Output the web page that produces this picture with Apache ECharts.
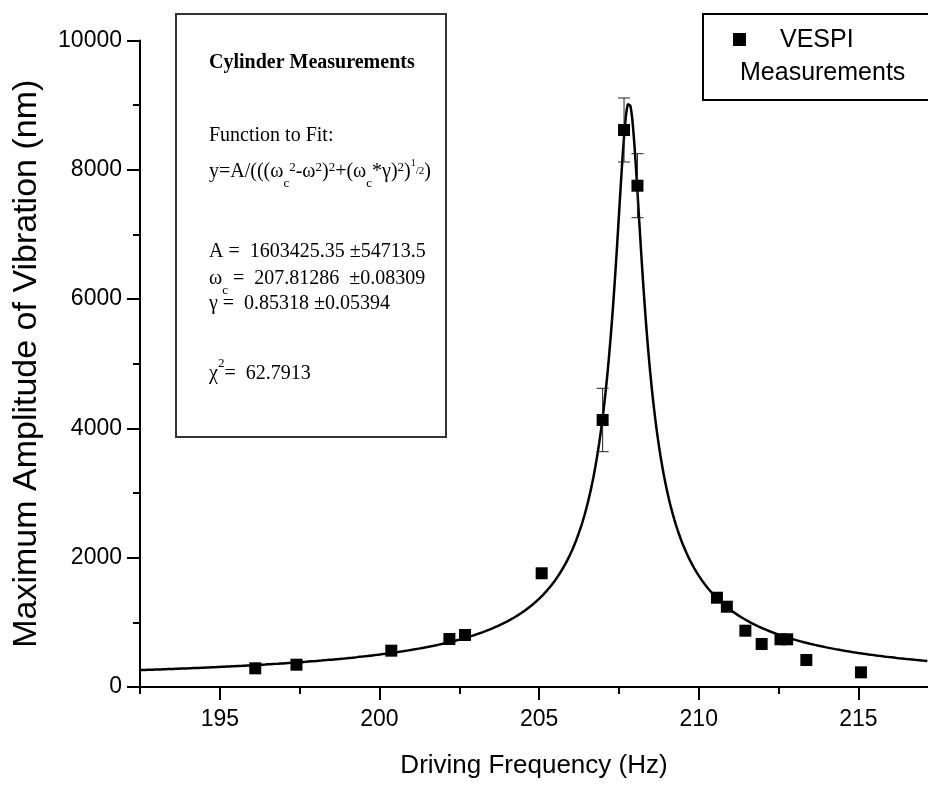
<!DOCTYPE html>
<html>
<head>
<meta charset="utf-8">
<script src="https://cdn.jsdelivr.net/npm/echarts@6/dist/echarts.min.js"></script>
<style>
  html, body { margin: 0; padding: 0; background: #fff; }
  #chart { width: 928px; height: 788px; }
</style>
</head>
<body>
<div id="chart"></div>
<script>
// Measured resonance data: driving frequency (Hz) and peak amplitude (nm)
const freq = [196.11, 197.40, 200.37, 202.19, 202.68, 205.08, 206.99, 207.66, 208.08,
              210.57, 210.88, 211.46, 211.97, 212.56, 212.77, 213.37, 215.08];
const amplitude = [289, 345, 562, 742, 804, 1759, 4130, 8616, 7754,
                   1381, 1242, 871, 665, 738, 738, 418, 227];

// Points carrying visible error bars (index into the arrays above) and their half-widths
const errIndex = [6, 7, 8];
const errSize = [490, 495, 495];

// Axis ranges and tick positions
const xMin = 192.5, xMax = 217.18;
const xMajorTicks = [195, 200, 205, 210, 215];
const xMinorTicks = [192.5, 197.5, 202.5, 207.5, 212.5];
const yMin = 0, yMax = 10000, yStep = 2000;

// Fitted resonance parameters (as printed in the annotation box)
const fitA = 1603425.35;
const fitOmegaC = 207.81286;
const fitGamma = 0.85318;

// Annotation strings
const boxTitle = 'Cylinder Measurements';
const fitLabel = 'Function to Fit:';
const paramA = 'A =  1603425.35 \u00b154713.5';
const paramWc = ' =  207.81286  \u00b10.08309';
const paramGamma = '\u03b3 =  0.85318 \u00b10.05394';
const chiValue = '=  62.7913';
const legendName1 = 'VESPI';
const legendName2 = 'Measurements';

// Fit curve y = A / sqrt((wc^2 - w^2)^2 + (wc*gamma)^2)
function fitAmplitude(w) {
  const d = fitOmegaC * fitOmegaC - w * w;
  const g = fitOmegaC * fitGamma;
  return fitA / Math.sqrt(d * d + g * g);
}
const fitCurve = [];
for (let w = xMin; w <= xMax + 1e-9; w += 0.02) fitCurve.push([w, fitAmplitude(w)]);

const scatterData = freq.map((f, i) => [f, amplitude[i]]);
const errData = errIndex.map((k, j) => [freq[k], amplitude[k], errSize[j]]);

// --- text helpers for the annotation box (sub/superscripts) ---
const measureCtx = document.createElement('canvas').getContext('2d');
const SERIF = '"Liberation Serif", "Times New Roman", serif';
const SANS = '"Liberation Sans", Arial, sans-serif';
const segStyle = {
  n:    { size: 20, dy: 0 },
  sub:  { size: 13, dy: 10 },
  sup:  { size: 13, dy: -6 },
  supH: { size: 13, dy: -12 },
  half1:{ size: 10, dy: -11 },
  half2:{ size: 11, dy: -3 }
};
function textLine(x, baseline, segs, weight) {
  const out = [];
  let cx = x;
  segs.forEach(([t, kind]) => {
    const st = segStyle[kind];
    const fw = weight || 'normal';
    measureCtx.font = fw + ' ' + st.size + 'px ' + SERIF;
    const w = measureCtx.measureText(t).width;
    out.push({
      type: 'text', x: cx, y: baseline + st.dy - st.size * 0.32, z: 20,
      style: { text: t, fill: '#000', font: fw + ' ' + st.size + 'px ' + SERIF,
               align: 'left', verticalAlign: 'middle' }
    });
    cx += w;
  });
  return out;
}

const boxLeft = 209;
const boxGraphics = [
  { type: 'rect', z: 10, shape: { x: 176, y: 14, width: 270, height: 423 },
    style: { fill: '#fff', stroke: '#333', lineWidth: 2 } },
  ...textLine(boxLeft, 69, [[boxTitle, 'n']], 'bold'),
  ...textLine(boxLeft, 142, [[fitLabel, 'n']]),
  ...textLine(boxLeft, 178, [
    ['y=A/(((\u03c9', 'n'], ['c', 'sub'], ['2', 'sup'], ['-\u03c9', 'n'], ['2', 'sup'],
    [')', 'n'], ['2', 'sup'], ['+(\u03c9', 'n'], ['c', 'sub'], ['*\u03b3)', 'n'], ['2', 'sup'],
    [')', 'n'], ['1', 'half1'], ['/', 'half2'], ['2', 'half2'], [')', 'n']
  ]),
  ...textLine(boxLeft, 258, [[paramA, 'n']]),
  ...textLine(boxLeft, 285, [['\u03c9', 'n'], ['c', 'sub'], [paramWc, 'n']]),
  ...textLine(boxLeft, 310, [[paramGamma, 'n']]),
  ...textLine(boxLeft, 380, [['\u03c7', 'n'], ['2', 'supH'], [chiValue, 'n']])
];

const legendGraphics = [
  { type: 'rect', z: 10, shape: { x: 703, y: 14, width: 240, height: 86 },
    style: { fill: '#fff', stroke: '#000', lineWidth: 2 } },
  { type: 'rect', z: 20, shape: { x: 733, y: 33, width: 13, height: 13 },
    style: { fill: '#000' } },
  { type: 'text', z: 20, x: 780, y: 40,
    style: { text: legendName1, fill: '#000', font: '25px ' + SANS, verticalAlign: 'middle' } },
  { type: 'text', z: 20, x: 740, y: 73,
    style: { text: legendName2, fill: '#000', font: '25px ' + SANS, verticalAlign: 'middle' } }
];

const axisText = { color: '#000', fontFamily: SANS, fontSize: 23 };
const blackLine = { color: '#000', width: 2 };

const chart = echarts.init(document.getElementById('chart'), null, { renderer: 'canvas' });
chart.setOption({
  animation: false,
  backgroundColor: '#fff',
  grid: { left: 140, right: 0, top: 40.5, bottom: 101, containLabel: false },
  xAxis: [{
    type: 'value', min: xMin, max: xMax, gridIndex: 0, position: 'bottom',
    name: 'Driving Frequency (Hz)', nameLocation: 'middle', nameGap: 66,
    nameTextStyle: { color: '#000', fontFamily: SANS, fontSize: 26 },
    axisLine: { show: true, lineStyle: blackLine },
    axisTick: { show: true, length: 13, lineStyle: blackLine, customValues: xMajorTicks },
    axisLabel: { ...axisText, margin: 21, customValues: xMajorTicks },
    splitLine: { show: false }
  }, {
    type: 'value', min: xMin, max: xMax, gridIndex: 0, position: 'bottom',
    axisLine: { show: false },
    axisTick: { show: true, length: 7, lineStyle: blackLine, customValues: xMinorTicks },
    axisLabel: { show: false },
    splitLine: { show: false }
  }],
  yAxis: {
    type: 'value', min: yMin, max: yMax, interval: yStep,
    name: 'Maximum Amplitude of Vibration (nm)', nameLocation: 'middle', nameGap: 96,
    nameTextStyle: { color: '#000', fontFamily: SANS, fontSize: 34 },
    axisLine: { show: true, lineStyle: blackLine },
    axisTick: { show: true, length: 13, lineStyle: blackLine },
    minorTick: { show: true, splitNumber: 2, length: 7, lineStyle: blackLine },
    axisLabel: { ...axisText, margin: 18, formatter: v => String(v) },
    splitLine: { show: false },
    minorSplitLine: { show: false }
  },
  series: [{
    type: 'line', data: fitCurve, showSymbol: false, symbol: 'none', smooth: false,
    lineStyle: { color: '#000', width: 2.5 }, z: 2, silent: true
  }, {
    type: 'custom', data: errData, z: 3,
    renderItem: function (params, api) {
      const x = api.value(0), y = api.value(1), e = api.value(2);
      const top = api.coord([x, y + e]);
      const bot = api.coord([x, y - e]);
      const half = 6;
      const st = { stroke: '#222', lineWidth: 1 };
      return {
        type: 'group',
        children: [
          { type: 'line', shape: { x1: top[0], y1: top[1], x2: bot[0], y2: bot[1] }, style: st },
          { type: 'line', shape: { x1: top[0] - half, y1: top[1], x2: top[0] + half, y2: top[1] }, style: st },
          { type: 'line', shape: { x1: bot[0] - half, y1: bot[1], x2: bot[0] + half, y2: bot[1] }, style: st }
        ]
      };
    }
  }, {
    type: 'scatter', data: scatterData, symbol: 'rect', symbolSize: 12,
    itemStyle: { color: '#000', opacity: 1 }, z: 4
  }],
  graphic: [...boxGraphics, ...legendGraphics]
});
</script>
</body>
</html>
